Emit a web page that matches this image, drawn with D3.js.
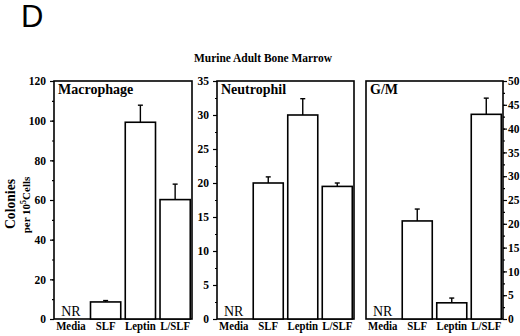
<!DOCTYPE html>
<html>
<head>
<meta charset="utf-8">
<script src="https://cdn.jsdelivr.net/npm/d3@7"></script>
<style>
  body { margin: 0; background: #fff; }
  svg text { font-family: "Liberation Serif", "DejaVu Serif", serif; }
</style>
</head>
<body>
<div id="chart"></div>
<script>
// categories and values (null = NR, not reported)
const categories = ['Media', 'SLF', 'Leptin', 'L/SLF'];
const macrophage = [null, 8.6, 99.2, 60.2];
const macrophageErr = [null, 9.3, 107.8, 68];
const neutrophil = [null, 20, 30, 19.5];
const neutrophilErr = [null, 20.9, 32.4, 20];
const gm = [null, 20.6, 3.4, 43];
const gmErr = [null, 23.1, 4.4, 46.4];
const macTicks = [0, 20, 40, 60, 80, 100, 120];
const neuTicks = [0, 5, 10, 15, 20, 25, 30, 35];
const gmTicks = [0, 5, 10, 15, 20, 25, 30, 35, 40, 45, 50];

const W = 520, H = 336;
const plotTop = 81, plotBottom = 319;

const svg = d3.select('#chart').append('svg')
    .attr('width', W).attr('height', H);

// panel letter
svg.append('text').attr('x', 21).attr('y', 27)
    .style('font-family', '"Liberation Sans", Arial, sans-serif')
    .attr('font-size', 31).text('D');

// main title (source figure's type is slightly condensed)
svg.append('text').attr('transform', 'translate(263,62) scale(0.88,1)')
    .attr('text-anchor', 'middle').attr('font-weight', 'bold').attr('font-size', 13)
    .text('Murine Adult Bone Marrow');

// y label
svg.append('text').attr('transform', 'translate(15,204) rotate(-90)')
    .attr('text-anchor', 'middle').attr('font-weight', 'bold').attr('font-size', 15)
    .attr('textLength', 50).attr('lengthAdjust', 'spacingAndGlyphs')
    .text('Colonies');
var sub = svg.append('text').attr('transform', 'translate(30,205) rotate(-90)')
    .attr('text-anchor', 'middle').attr('font-weight', 'bold').attr('font-size', 11);
sub.append('tspan').text('per 10');
sub.append('tspan').attr('dy', -4).attr('font-size', 8).text('5');
sub.append('tspan').attr('dy', 4).text('Cells');

const panels = [
    { name: 'Macrophage', x0: 54, x1: 192, vals: macrophage, err: macrophageErr, ticks: macTicks, minor: 10, side: 'left' },
    { name: 'Neutrophil', x0: 217, x1: 354, vals: neutrophil, err: neutrophilErr, ticks: neuTicks, minor: 2.5, side: 'left' },
    { name: 'G/M', x0: 366, x1: 503, vals: gm, err: gmErr, ticks: gmTicks, minor: 2.5, side: 'right' }
];

panels.forEach(p => {
    var max = d3.max(p.ticks);
    var y = d3.scaleLinear().domain([0, max]).range([plotBottom, plotTop]);
    var x = d3.scaleBand().domain(categories).range([p.x0, p.x1])
        .paddingInner(0.13).paddingOuter(0.05);
    var g = svg.append('g');

    var minorVals = d3.range(0, max + 0.001, p.minor);
    var axisX = p.side == 'left' ? p.x0 : p.x1;
    var mk = p.side == 'left' ? d3.axisLeft : d3.axisRight;

    // minor ticks
    g.append('g').attr('transform', `translate(${axisX},0)`)
        .call(mk(y).tickValues(minorVals).tickSize(2).tickFormat(''))
        .call(a => a.select('.domain').remove());
    // major ticks + labels
    g.append('g').attr('class', 'ax').attr('transform', `translate(${axisX},0)`)
        .call(mk(y).tickValues(p.ticks).tickSize(4).tickPadding(p.side == 'left' ? 4 : 1))
        .call(a => a.select('.domain').remove())
        .call(a => a.selectAll('text').attr('font-weight', 'bold').attr('font-size', 11.5)
            .style('font-family', '"Liberation Serif", serif'));
    g.selectAll('.tick line').attr('stroke-width', 1.2);

    // frame
    g.append('rect').attr('x', p.x0).attr('y', plotTop)
        .attr('width', p.x1 - p.x0).attr('height', plotBottom - plotTop)
        .attr('fill', 'none').attr('stroke', '#000').attr('stroke-width', 1.6);

    // panel name
    g.append('text').attr('x', p.x0 + 4).attr('y', plotTop + 13)
        .attr('font-weight', 'bold').attr('font-size', 14).text(p.name);

    var data = categories.map((c, i) => ({ c: c, v: p.vals[i], e: p.err[i] }));
    var bars = data.filter(d => d.v != null);

    // error bars
    g.selectAll('line.err').data(bars).enter().append('line')
        .attr('x1', d => x(d.c) + x.bandwidth() / 2).attr('x2', d => x(d.c) + x.bandwidth() / 2)
        .attr('y1', d => y(d.v)).attr('y2', d => y(d.e))
        .attr('stroke', '#000').attr('stroke-width', 1.4);
    g.selectAll('line.cap').data(bars).enter().append('line')
        .attr('x1', d => x(d.c) + x.bandwidth() / 2 - 2.5).attr('x2', d => x(d.c) + x.bandwidth() / 2 + 2.5)
        .attr('y1', d => y(d.e)).attr('y2', d => y(d.e))
        .attr('stroke', '#000').attr('stroke-width', 1.4);

    g.selectAll('rect.bar').data(bars).enter().append('rect')
        .attr('x', d => x(d.c)).attr('width', x.bandwidth())
        .attr('y', d => y(d.v)).attr('height', d => y(0) - y(d.v))
        .attr('fill', '#fff').attr('stroke', '#000').attr('stroke-width', 1.6);

    // NR labels
    g.selectAll('text.nr').data(data.filter(d => d.v == null)).enter().append('text')
        .attr('x', d => x(d.c) + x.bandwidth() / 2).attr('y', plotBottom - 3)
        .attr('text-anchor', 'middle').attr('font-size', 14).text('NR');

    // category labels
    g.selectAll('text.cat').data(categories).enter().append('text')
        .attr('transform', d => `translate(${x(d) + x.bandwidth() / 2},330) scale(0.9,1)`)
        .attr('text-anchor', 'middle').attr('font-weight', 'bold').attr('font-size', 12)
        .text(d => d);
});
</script>
</body>
</html>
